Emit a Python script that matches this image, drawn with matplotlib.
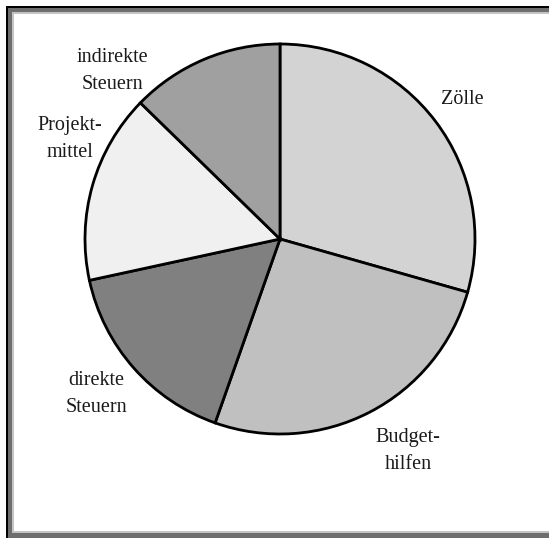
import matplotlib
matplotlib.use("Agg")
import matplotlib.pyplot as plt
from matplotlib.patches import Rectangle

# Data (shares)
categories = ["Zölle", "Budget-\nhilfen", "direkte\nSteuern", "Projekt-\nmittel", "indirekte\nSteuern"]
values = [29.4, 26.0, 16.2, 15.7, 12.7]
colors = ["#d3d3d3", "#c0c0c0", "#808080", "#f0f0f0", "#a0a0a0"]

W, H = 549, 538
fig = plt.figure(figsize=(W / 100, H / 100), dpi=100)
fig.patch.set_facecolor("white")

# pixel helpers (y measured from top)
def fx(px):
    return px / W

def fy(py):
    return 1 - py / H

# sunken frame
def frame(x0, y0, x1, y1, color, z):
    fig.patches.append(Rectangle((fx(x0), fy(y1)), fx(x1) - fx(x0), fy(y0) - fy(y1),
                                 transform=fig.transFigure, facecolor=color,
                                 edgecolor="none", zorder=z))

frame(6, 6, 600, 600, "#000000", -4)
frame(8, 8, 600, 600, "#6e6e6e", -3)
frame(12, 12, 600, 533, "#c4c4c4", -2)
frame(14, 14, 549, 531, "#ffffff", -1)

ax = fig.add_axes([0, 0, 1, 1])
ax.set_facecolor("none")
ax.set_zorder(5)

cx, cy, r = 280, 239, 195
ax.pie(values, colors=colors, startangle=90, counterclock=False,
       center=(cx, H - cy), radius=r,
       wedgeprops=dict(edgecolor="black", linewidth=2.0))
ax.set_xlim(0, W)
ax.set_ylim(0, H)
ax.set_aspect("equal")
ax.axis("off")

label_pos = [(462, 100), (408, 451), (96, 394), (70, 139), (112, 71)]
for text, (px, py) in zip(categories, label_pos):
    ax.text(px, H - py, text, ha="center", va="center", fontsize=14.5,
            family="Liberation Serif", linespacing=1.55, color="#1a1a1a")

fig.savefig("out.png", dpi=100)
